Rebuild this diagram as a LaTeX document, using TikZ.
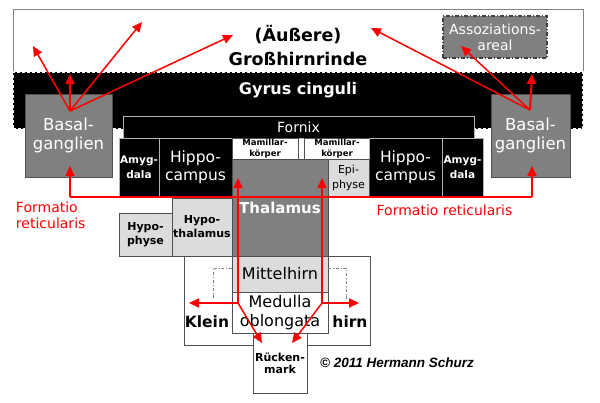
\documentclass[tikz,border=0pt]{standalone}
\usepackage{fontspec}
\setmainfont{DejaVu Sans}
\newfontfamily\arialfont{Liberation Sans}
\usetikzlibrary{arrows.meta}
\definecolor{midgray}{HTML}{808080}
\definecolor{lightgr}{HTML}{DCDCDC}
\definecolor{edgegray}{HTML}{505050}
\definecolor{arrowred}{HTML}{FF0000}
\newcommand{\myfs}[2]{\fontsize{#1}{#2}\selectfont}
\tikzset{
  box/.style={rectangle, inner sep=0pt, outer sep=0pt, line width=0.8pt, align=center},
  darkbox/.style={box, fill=black, draw=gray!60, text=white},
  graybox/.style={box, fill=midgray, draw=edgegray, text=white},
  lightbox/.style={box, fill=lightgr, draw=edgegray, text=black},
  whitebox/.style={box, fill=white, draw=edgegray, text=black},
  lbl/.style={inner sep=0pt, outer sep=0pt, align=center},
  redline/.style={draw=arrowred, line width=2pt},
  redarrow/.style={redline, -{Triangle[length=10pt,width=9pt]}},
  thinarrow/.style={redarrow, line width=1.5pt},
  bracket/.style={draw=gray, line width=0.7pt, dash dot},
}
\begin{document}
\begin{tikzpicture}[x=1pt, y=-1pt]
\useasboundingbox (0,0) rectangle (600,402);
\fill[white] (0,0) rectangle (600,402);

% cortex frame
\node[box, fill=white, draw=gray, minimum width=570pt, minimum height=63pt] (cortex) at (298,40.5) {};
% gyrus band
\node[box, fill=black, draw=white, line width=1.2pt, dash pattern=on 3pt off 2pt, minimum width=570pt, minimum height=57pt] (gyrus) at (298,100.5) {};
\node[lbl, text=white, font=\myfs{16}{18}\bfseries] (gyrustext) at (298,90) {Gyrus cinguli};
\node[lbl, font=\myfs{17.5}{24.5}\bfseries] (title) at (298,45.5) {(Äußere)\\Großhirnrinde};

% association area
\node[box, fill=midgray, draw=black!75, line width=1.2pt, dash pattern=on 4pt off 2pt on 1pt off 2pt, text=white, font=\myfs{14}{16}, minimum width=104pt, minimum height=42pt] (assoz) at (495,37) {Assoziations-\\areal};

% basal ganglia
\node[graybox, font=\myfs{16.5}{19}, minimum width=87pt, minimum height=83pt] (basalL) at (68.5,135.5) {Basal-\\ganglien};
\node[graybox, font=\myfs{16.5}{19}, minimum width=79pt, minimum height=83pt] (basalR) at (530.5,135.5) {Basal-\\ganglien};

% fornix
\node[darkbox, font=\myfs{14}{16}, minimum width=351pt, minimum height=22pt] (fornix) at (298.5,127) {Fornix};

% row under fornix
\node[darkbox, font=\myfs{10.5}{15}\bfseries, minimum width=40pt, minimum height=58pt] (amygL) at (139,167) {Amyg-\\dala};
\node[darkbox, font=\myfs{15.5}{18}, minimum width=73pt, minimum height=58pt] (hippoL) at (195.5,167) {Hippo-\\campus};
\node[whitebox, font=\myfs{8.5}{10.5}\bfseries, minimum width=66pt, minimum height=21pt] (mamL) at (265,148.5) {Mamillar-\\körper};
\node[whitebox, font=\myfs{8.5}{10.5}\bfseries, minimum width=66pt, minimum height=21pt] (mamR) at (337,148.5) {Mamillar-\\körper};
\node[darkbox, font=\myfs{15.5}{18}, minimum width=73pt, minimum height=58pt] (hippoR) at (405.5,167) {Hippo-\\campus};
\node[darkbox, font=\myfs{10.5}{15}\bfseries, minimum width=41pt, minimum height=58pt] (amygR) at (462.5,167) {Amyg-\\dala};

% Kleinhirn
\node[whitebox, minimum width=186pt, minimum height=89pt] (klein) at (277,300.5) {};
\node[lbl, font=\myfs{15.5}{17}\bfseries] (kleinL) at (207,322) {Klein};
\node[lbl, font=\myfs{15.5}{17}\bfseries] (kleinR) at (350,322) {hirn};

% thalamus & co
\node[graybox, draw=black!70, font=\myfs{15}{17}\bfseries, minimum width=96pt, minimum height=97pt] (thal) at (280,207.5) {Thalamus};
\node[lightbox, font=\myfs{11}{15}, minimum width=41pt, minimum height=37pt] (epi) at (348.5,177.5) {Epi-\\physe};
\node[lightbox, font=\myfs{11}{14}\bfseries, minimum width=60pt, minimum height=58pt] (hypothal) at (202,227) {Hypo-\\thalamus};
\node[lightbox, font=\myfs{11}{14}\bfseries, minimum width=53pt, minimum height=43pt] (hypoph) at (145.5,234.5) {Hypo-\\physe};
\node[lightbox, font=\myfs{16}{19}, minimum width=96pt, minimum height=36pt] (mittel) at (280,274) {Mittelhirn};
\node[whitebox, font=\myfs{16}{19}, minimum width=96pt, minimum height=41pt] (medulla) at (280,312.5) {Medulla\\oblongata};
\node[whitebox, font=\myfs{11}{12.5}\bfseries, minimum width=54pt, minimum height=60pt] (rueck) at (280,363.5) {Rücken-\\mark};

% dash-dot brackets in Kleinhirn
\draw[bracket] (mittel.north west |- 0,268) -- (213,268) -- (213,299);
\draw[bracket] (mittel.north east |- 0,268) -- (346,268) -- (346,299);

% red connections: lower
\coordinate (hl) at (70,197);
\coordinate (hr) at (532,197);
\coordinate (blIn) at (70,166);
\coordinate (brIn) at (532,166);
\draw[redline] (hl) -- (hr);
\draw[redarrow] (hl) -- (blIn);
\draw[redarrow] (hr) -- (brIn);

\coordinate (jl) at (238,303);
\coordinate (jr) at (322,303);
\coordinate (tl) at (238,178);
\coordinate (tr) at (322,178);
\coordinate (kl) at (189,303);
\coordinate (kr) at (359,303);
\coordinate (rl) at (262,343);
\coordinate (rr) at (292,343);
\draw[redarrow] (jl) -- (tl);
\draw[redarrow] (jr) -- (tr);
\draw[redarrow] (jl) -- (kl);
\draw[redarrow] (jr) -- (kr);
\draw[thinarrow] (jl) -- (rl);
\draw[thinarrow] (jr) -- (rr);

% red connections: upper left
\coordinate (ol) at (70,111);
\coordinate (a1) at (33,46);
\coordinate (a2) at (142,22);
\coordinate (a3) at (233,35);
\coordinate (a4) at (70,74);
\draw[thinarrow] (ol) -- (a1);
\draw[thinarrow] (ol) -- (a2);
\draw[thinarrow] (ol) -- (a3);
\draw[redarrow] (ol) -- (a4);

% red connections: upper right
\coordinate (or) at (530,110);
\coordinate (b1) at (371,28);
\coordinate (b2) at (461,46);
\coordinate (b3) at (532,74);
\draw[thinarrow] (or) -- (b1);
\draw[thinarrow] (or) -- (b2);
\draw[redarrow] (or) -- (b3);

% labels
\node[lbl, text=arrowred, font=\myfs{14}{16}, align=left, anchor=west] (formL) at (16,215) {Formatio\\reticularis};
\node[lbl, text=arrowred, font=\myfs{14}{16}] (formR) at (444.5,210) {Formatio reticularis};
\node[lbl, font=\arialfont\myfs{13.5}{16}\bfseries\itshape] (copy) at (397,363) {© 2011 Hermann Schurz};
\end{tikzpicture}
\end{document}
